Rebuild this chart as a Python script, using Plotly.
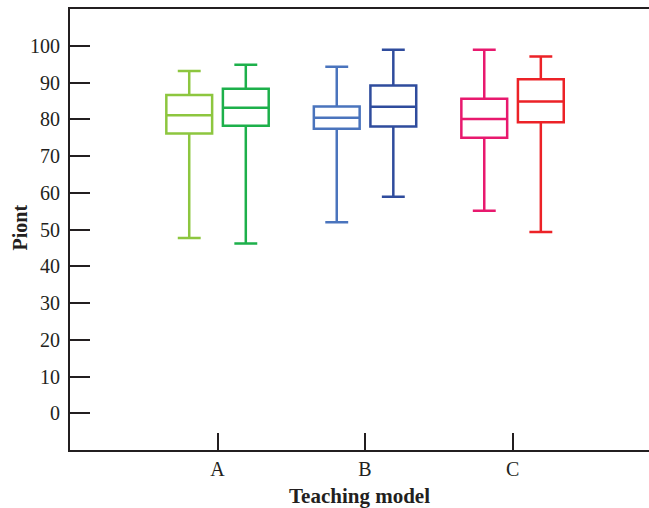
import plotly.graph_objects as go

categories = ["A", "B", "C"]
colors_first = ["#8DC63F", "#4A74BD", "#E8196E"]
colors_second = ["#1DB04B", "#2F4C9D", "#EC2227"]

# first box of each teaching model
first_low = [47.7, 52.0, 55.1]
first_q1 = [76.1, 77.4, 75.0]
first_med = [81.1, 80.4, 80.1]
first_q3 = [86.6, 83.5, 85.6]
first_high = [93.1, 94.3, 98.9]

# second box of each teaching model
second_low = [46.2, 58.9, 49.3]
second_q1 = [78.2, 78.0, 79.2]
second_med = [83.1, 83.4, 84.8]
second_q3 = [88.3, 89.2, 90.9]
second_high = [94.8, 98.9, 97.1]

y_ticks = [0, 10, 20, 30, 40, 50, 60, 70, 80, 90, 100]
y_title = "Piont"
x_title = "Teaching model"

fig = go.Figure()
series = [
    ("1", colors_first, first_low, first_q1, first_med, first_q3, first_high),
    ("2", colors_second, second_low, second_q1, second_med, second_q3, second_high),
]
for grp, cols, lo, q1, md, q3, hi in series:
    for i, cat in enumerate(categories):
        fig.add_trace(go.Box(
            x=[cat], q1=[q1[i]], median=[md[i]], q3=[q3[i]],
            lowerfence=[lo[i]], upperfence=[hi[i]],
            offsetgroup=grp, alignmentgroup="all",
            line=dict(color=cols[i], width=2.5),
            fillcolor="white", whiskerwidth=0.5,
            boxpoints=False, showlegend=False, hoverinfo="skip",
        ))

axis_color = "#231f20"
fig.update_layout(
    width=649, height=508,
    margin=dict(l=70, r=0, t=9, b=58, autoexpand=False),
    paper_bgcolor="white", plot_bgcolor="white",
    boxmode="group", boxgap=0.233, boxgroupgap=0.19,
    font=dict(family="Liberation Serif, Times New Roman, serif", size=20, color=axis_color),
    xaxis=dict(
        type="category", categoryorder="array", categoryarray=categories,
        range=[-1, 2.925], showline=True, linecolor=axis_color, linewidth=2,
        mirror=True, ticks="inside", ticklen=17, tickwidth=2, tickcolor=axis_color,
        showgrid=False, zeroline=False, automargin=False,
        title=dict(text="<b>" + x_title + "</b>", font=dict(size=21), standoff=9),
    ),
    yaxis=dict(
        range=[-10, 110], tickvals=y_ticks, ticktext=[str(v) for v in y_ticks],
        showline=True, linecolor=axis_color, linewidth=2, mirror=False,
        ticks="inside", ticklen=20, tickwidth=2, tickcolor=axis_color,
        showgrid=False, zeroline=False, ticklabelstandoff=4, automargin=False,
    ),
    annotations=[dict(
        text="<b>" + y_title + "</b>", textangle=-90, showarrow=False,
        xref="paper", yref="paper", x=0, y=0.5, xanchor="center", yanchor="middle",
        xshift=-51, yshift=2, font=dict(size=20, color=axis_color),
    )],
)

fig.write_html(
    "out.html",
    config={"displayModeBar": False},
    post_script=(
        "document.body.style.margin='0';document.body.style.overflow='hidden';"
        "document.documentElement.style.overflow='hidden';"
    ),
)
